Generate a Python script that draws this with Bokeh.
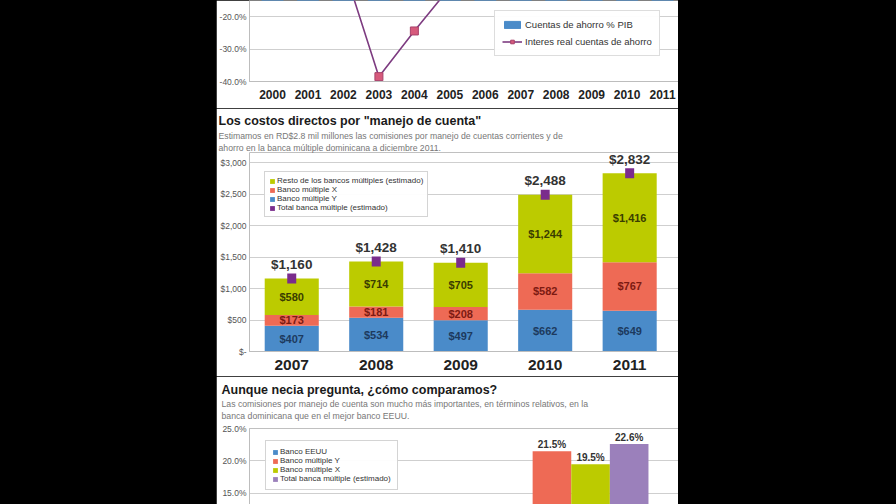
from bokeh.plotting import figure
from bokeh.models import (Range1d, FixedTicker, PrintfTickFormatter, NumeralTickFormatter,
                          Legend, LegendItem, Title, ColumnDataSource, Spacer, LabelSet)
from bokeh.layouts import row, column
from bokeh.core.properties import value
from bokeh.embed import file_html
from bokeh.resources import INLINE

# ---------------- data ----------------
# Top chart (only the lower part is visible)
years_top = [2000, 2001, 2002, 2003, 2004, 2005, 2006, 2007, 2008, 2009, 2010, 2011]
cuentas_pib = [5.8, 6.1, 6.9, 7.4, 7.0, 6.8, 6.6, 6.7, 6.4, 6.8, 7.0, 7.1]      # off-view, estimated
interes_real = [4.0, 5.5, -4.5, -38.5, -24.4, -11.0, 2.5, 1.5, -3.0, 3.5, 0.5, -2.0]

# Middle chart
years_mid = ["2007", "2008", "2009", "2010", "2011"]
banco_y = [407, 534, 497, 662, 649]
banco_x = [173, 181, 208, 582, 767]
resto = [580, 714, 705, 1244, 1416]
total = [1160, 1428, 1410, 2488, 2832]
mid_ticks = [0, 500, 1000, 1500, 2000, 2500, 3000]

# Bottom chart
series_bot = ["Banco EEUU", "Banco múltiple Y", "Banco múltiple X", "Total banca múltiple (estimado)"]
valores_bot = [8.0, 21.5, 19.5, 22.6]

# ---------------- style ----------------
BLUE = "#4a8bc9"
RED = "#ee6a55"
GREEN = "#bccb00"
PURPLE = "#7a2c8c"
LAVENDER = "#9b80bb"
GRID = "#cfcfcf"
SANS = "Liberation Sans"


def base_style(p):
    p.outline_line_color = None
    p.background_fill_color = "white"
    p.border_fill_color = "white"
    p.xgrid.grid_line_color = None
    p.ygrid.grid_line_color = GRID
    for ax in p.yaxis + p.xaxis:
        ax.axis_line_color = "#bdbdbd"
        ax.major_tick_line_color = None
        ax.minor_tick_line_color = None
        ax.major_tick_out = 0
        ax.major_tick_in = 0
        ax.minor_tick_out = 0
        ax.minor_tick_in = 0
    for ax in p.yaxis:
        ax.major_label_text_font = SANS
        ax.major_label_text_font_size = "8.5px"
        ax.major_label_text_color = "#555555"
        ax.major_label_standoff = 3


def add_titles(p, lines, offset, standoffs, gap_font=None):
    if gap_font:
        # blank spacer between the frame and the subtitle lines
        p.add_layout(Title(text=" ", standoff=0, text_font_size=gap_font), "above")
    # lines: [main, sub1, sub2]; add the one closest to the frame first
    for i, (t, so) in enumerate(zip(reversed(lines), reversed(standoffs))):
        main = (i == len(lines) - 1)
        p.add_layout(Title(text=t, align="left", offset=offset, standoff=so,
                           text_font=SANS,
                           text_font_size="12.5px" if main else "8.7px",
                           text_font_style="bold" if main else "normal",
                           text_color="#1a1a1a" if main else "#777777"), "above")


# ---------------- top chart ----------------
p1 = figure(width=462, height=108, x_range=Range1d(1999.35, 2011.45), y_range=Range1d(-40, -15),
            output_backend="svg", toolbar_location=None,
            min_border_left=33, min_border_right=0, min_border_top=0, min_border_bottom=27)
base_style(p1)
bars_top = p1.vbar(x=years_top, top=cuentas_pib, bottom=0, width=0.6, color=BLUE)
ln = p1.line(years_top, interes_real, line_color="#7d3b80", line_width=1.6)
mk = p1.scatter(years_top, interes_real, marker="square", size=8,
                fill_color="#d65a7c", line_color="#a8416a")
p1.yaxis.ticker = FixedTicker(ticks=[-40, -30, -20])
p1.yaxis.formatter = PrintfTickFormatter(format="%.1f%%")
p1.xaxis.ticker = FixedTicker(ticks=years_top)
p1.xaxis.major_label_text_font = SANS
p1.xaxis.major_label_text_font_style = "bold"
p1.xaxis.major_label_text_font_size = "12px"
p1.xaxis.major_label_text_color = "#222222"
p1.xaxis.major_label_standoff = 8
leg1 = Legend(items=[LegendItem(label="Cuentas de ahorro % PIB", renderers=[bars_top]),
                     LegendItem(label="Interes real cuentas de ahorro", renderers=[ln, mk])],
              location=(245, 25))
leg1.label_text_font = SANS
leg1.label_text_font_size = "9.5px"
leg1.label_text_color = "#333333"
leg1.glyph_width = 20
leg1.glyph_height = 9
leg1.label_height = 13
leg1.spacing = 4
leg1.padding = 7
leg1.margin = 0
leg1.label_standoff = 3
leg1.border_line_color = "#bbbbbb"
p1.add_layout(leg1)

# ---------------- middle chart ----------------
xm = list(range(len(years_mid)))
src = ColumnDataSource(dict(x=xm, banco_y=banco_y, banco_x=banco_x, resto=resto, total=total,
                            total_txt=["$" + format(v, ",") for v in total]))
# a little headroom above the $3,000 line keeps the tallest total label inside the frame
p2 = figure(width=462, height=268, x_range=Range1d(-0.5, 4.578), y_range=Range1d(0, 3160),
            output_backend="svg", toolbar_location=None,
            min_border_left=32, min_border_right=0, min_border_top=44, min_border_bottom=25)
base_style(p2)
stack = p2.vbar_stack(["banco_y", "banco_x", "resto"], x="x", width=0.64,
                      color=[BLUE, RED, GREEN], line_color=None, source=src)
tot = p2.rect(x="x", y="total", width=9, height=10, width_units="screen", height_units="screen",
              fill_color=PURPLE, line_color=None, source=src)

seg_colors = ["#1d3a5e", "#7d1a12", "#3a3d00"]
bottoms = [0] * len(xm)
for vals, tc in zip([banco_y, banco_x, resto], seg_colors):
    mids = [b + v / 2 for b, v in zip(bottoms, vals)]
    p2.text(x=xm, y=mids, text=["$" + format(v, ",") for v in vals], text_align="center",
            text_baseline="middle", text_font=value(SANS), text_font_style="bold",
            text_font_size="11px", text_color=tc)
    bottoms = [b + v for b, v in zip(bottoms, vals)]
p2.add_layout(LabelSet(x="x", y="total", text="total_txt", y_offset=14, source=src,
                       text_align="center", text_baseline="middle", text_font=value(SANS),
                       text_font_style="bold", text_font_size="13.5px", text_color="#333333"))

p2.yaxis.ticker = FixedTicker(ticks=mid_ticks)
p2.yaxis.bounds = (mid_ticks[0], mid_ticks[-1])
p2.yaxis.formatter = NumeralTickFormatter(format="$0,0")
p2.yaxis.major_label_overrides = {0: "$-"}
p2.xaxis.ticker = FixedTicker(ticks=xm)
p2.xaxis.major_label_overrides = {i: y for i, y in zip(xm, years_mid)}
p2.xaxis.major_label_text_font = SANS
p2.xaxis.major_label_text_font_style = "bold"
p2.xaxis.major_label_text_font_size = "15.5px"
p2.xaxis.major_label_text_color = "#222222"
p2.xaxis.major_label_standoff = 8
add_titles(p2, ['Los costos directos por "manejo de cuenta"',
                "Estimamos en RD$2.8 mil millones las comisiones por manejo de cuentas corrientes y de",
                "ahorro en la banca múltiple dominicana a diciembre 2011."], -31, [1, 0, 0])
leg2 = Legend(items=[LegendItem(label="Resto de los bancos múltiples (estimado)", renderers=[stack[2]]),
                     LegendItem(label="Banco múltiple X", renderers=[stack[1]]),
                     LegendItem(label="Banco múltiple Y", renderers=[stack[0]]),
                     LegendItem(label="Total banca múltiple (estimado)", renderers=[tot])],
              location=(15, 134))
leg2.label_text_font = SANS
leg2.label_text_font_size = "8px"
leg2.label_text_color = "#333333"
leg2.glyph_width = 6
leg2.glyph_height = 6
leg2.label_height = 9
leg2.spacing = 0
leg2.padding = 4
leg2.margin = 0
leg2.label_standoff = 2
leg2.border_line_color = "#aaaaaa"
p2.add_layout(leg2)

# ---------------- bottom chart ----------------
y_lo, y_hi = 13.3, 25
n = len(series_bot)
xb = [1.5 + (i - (n - 1) / 2) * 0.18 for i in range(n)]
srcb = ColumnDataSource(dict(x=xb, v=valores_bot, c=[BLUE, RED, GREEN, LAVENDER],
                             t=[format(v, ".1f") + "%" if v >= y_lo else "" for v in valores_bot]))
p3 = figure(width=462, height=128, x_range=Range1d(0, 2), y_range=Range1d(y_lo, y_hi),
            output_backend="svg", toolbar_location=None, x_axis_location=None,
            min_border_left=29, min_border_right=0, min_border_top=52, min_border_bottom=0)
base_style(p3)
bb = p3.vbar(x="x", top="v", bottom=0, width=0.18, fill_color="c", line_color=None, source=srcb)
p3.text(x="x", y="v", text="t", y_offset=-7, text_align="center", text_baseline="middle",
        text_font=value(SANS), text_font_style="bold", text_font_size="10px",
        text_color="#333333", source=srcb)
p3.yaxis.ticker = FixedTicker(ticks=[15, 20, 25])
p3.yaxis.formatter = PrintfTickFormatter(format="%.1f%%")
add_titles(p3, ["Aunque necia pregunta, ¿cómo comparamos?",
                "Las comisiones por manejo de cuenta son mucho más importantes, en términos relativos, en la",
                "banca dominicana que en el mejor banco EEUU."], -28, [0, 0, 0], "5px")
leg3 = Legend(items=[LegendItem(label=s, renderers=[bb], index=i) for i, s in enumerate(series_bot)],
              location=(16, 14))
leg3.label_text_font = SANS
leg3.label_text_font_size = "8px"
leg3.label_text_color = "#333333"
leg3.glyph_width = 6
leg3.glyph_height = 6
leg3.label_height = 8
leg3.spacing = 0
leg3.padding = 6
leg3.margin = 0
leg3.label_standoff = 2
leg3.border_line_color = "#aaaaaa"
p3.add_layout(leg3)

# ---------------- layout ----------------
left = Spacer(width=216, height=504, styles={"background-color": "black"})
right = Spacer(width=218, height=504, styles={"background-color": "black"})
layout = row(left, column(p1, p2, p3, spacing=0), right, spacing=0,
             styles={"background-color": "black"})

open("out.html", "w").write(file_html(layout, INLINE))
